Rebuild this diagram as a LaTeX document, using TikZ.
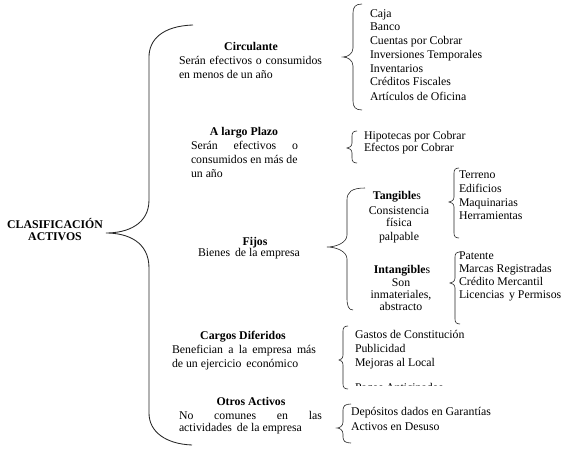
\documentclass[tikz,border=0pt]{standalone}
\usepackage{fontspec}
\setmainfont{Liberation Serif}
\newcommand\brc[8]{\draw[bracestyle] (#2,#3) .. controls ({#1+0.25*(#2-#1)},#3) and (#1,{#3+0.35*#8}) .. (#1,{#3+#8}) -- (#1,{#7-#8}) .. controls (#1,{#7-0.35*#8}) and ({#6+0.45*(#1-#6)},#7) .. (#6,#7) .. controls ({#6+0.45*(#1-#6)},#7) and (#1,{#7+0.35*#8}) .. (#1,{#7+#8}) -- (#1,{#5-#8}) .. controls (#1,{#5-0.35*#8}) and ({#1+0.25*(#4-#1)},#5) .. (#4,#5);}
\begin{document}
\begin{tikzpicture}[x=1pt,y=-1pt,
  bracestyle/.style={draw=black!85, line width=0.6pt},
  mainbrace/.style={draw=black!85, line width=0.85pt},
  txt/.style={inner sep=0pt, outer sep=0pt, yshift=-1.5pt, font=\fontsize{11.8}{13.8}\selectfont},
  L/.style={txt, anchor=mid west},
  C/.style={txt, anchor=mid},
  T/.style={inner sep=0pt, outer sep=0pt, yshift=-1.5pt, anchor=mid, font=\fontsize{11.8}{13.8}\selectfont\bfseries}]
\useasboundingbox[fill=white] (0,0) rectangle (568,452);

% main brace
\draw[mainbrace] (193,25) .. controls (162,26) and (149,40) .. (149,57) -- (149,200)
  .. controls (149,224) and (128,233) .. (106,233)
  .. controls (128,233) and (149,242) .. (149,268) -- (149,413)
  .. controls (149,432) and (166,444) .. (192,445);

% root
\node[T] (root1) at (55,225) {CLASIFICACIÓN};
\node[T] (root2) at (55,237) {ACTIVOS};

% Circulante
\node[T] (circ) at (251,47) {Circulante};
\node[L] (circa) at (179,61) {\hbox to 143pt{Serán\hfill efectivos\hfill o\hfill consumidos}};
\node[L] (circb) at (179,75) {en menos de un año};
\brc{353}{362}{4}{362}{110}{343}{57}{9}
\node[L] (caja) at (370,14) {Caja};
\node[L] (banco) at (370,27) {Banco};
\node[L] (cxc) at (370,41) {Cuentas por Cobrar};
\node[L] (invt) at (370,55) {Inversiones Temporales};
\node[L] (inv) at (370,69) {Inventarios};
\node[L] (cf) at (370,82) {Créditos Fiscales};
\node[L] (ao) at (370,97) {Artículos de Oficina};

% A largo plazo
\node[T] (lp) at (244,132) {A largo Plazo};
\node[L] (lpa) at (191,146) {\hbox to 107pt{Serán\hfill efectivos\hfill o}};
\node[L] (lpb) at (191,160) {consumidos en más de};
\node[L] (lpc) at (191,174) {un año};
\brc{352}{357}{131}{357}{163}{347}{148}{5}
\node[L] (hip) at (364,136) {Hipotecas por Cobrar};
\node[L] (efe) at (364,148) {Efectos por Cobrar};

% Fijos
\node[T] (fij) at (255,242) {Fijos};
\node[C] (fija) at (249,253) {Bienes \,de la empresa};
\brc{347}{365}{188}{353}{310}{327}{247}{12}

\node[T] (tan) at (397,196) {Tangible\mdseries s};
\node[C] (tana) at (399,211) {Consistencia};
\node[C] (tanb) at (399,223) {física};
\node[C] (tanc) at (399,237) {palpable};
\brc{454}{459}{168}{459}{238}{449}{202}{5}
\node[L] (ter) at (459,175) {Terreno};
\node[L] (edi) at (459,189) {Edificios};
\node[L] (maq) at (459,203) {Maquinarias};
\node[L] (her) at (459,216) {Herramientas};

\node[T] (int) at (402,270) {Intangible\mdseries s};
\node[C] (inta) at (401,283) {Son};
\node[C] (intb) at (401,295) {inmateriales,};
\node[C] (intc) at (401,307) {abstracto};
\brc{455}{460}{252}{460}{324}{450}{283}{5}
\node[L] (pat) at (459,256) {Patente};
\node[L] (mar) at (459,269) {Marcas Registradas};
\node[L] (cre) at (459,282) {Crédito Mercantil};
\node[L] (lic) at (459,295) {Licencias \,y Permisos};

% Cargos Diferidos
\node[T] (cd) at (243,336) {Cargos Diferidos};
\node[L] (cda) at (172,350) {\hbox to 144pt{Benefician\hfill a\hfill la\hfill empresa\hfill más}};
\node[L] (cdb) at (172,364) {de un ejercicio \,económico};
\brc{343}{348}{326}{348}{389}{339}{360}{5}
\node[L] (gas) at (355,335) {Gastos de Constitución};
\node[L] (pub) at (355,349) {Publicidad};
\node[L] (mej) at (355,363) {Mejoras al Local};
\begin{scope}
\clip (350,370) rectangle (480,385.5);
\node[L] (pag) at (355,388) {Pagos Anticipados};
\end{scope}

% Otros Activos
\node[T] (oa) at (251,402) {Otros Activos};
\node[L] (oaa) at (179,416) {\hbox to 143pt{No\hfill comunes\hfill en\hfill las}};
\node[L] (oab) at (179,428) {actividades \,de la empresa};
\brc{343}{351}{404}{351}{443}{337}{428}{6}
\node[L] (dep) at (351,412) {Depósitos dados en Garantías};
\node[L] (des) at (351,427) {Activos en Desuso};
\end{tikzpicture}
\end{document}
